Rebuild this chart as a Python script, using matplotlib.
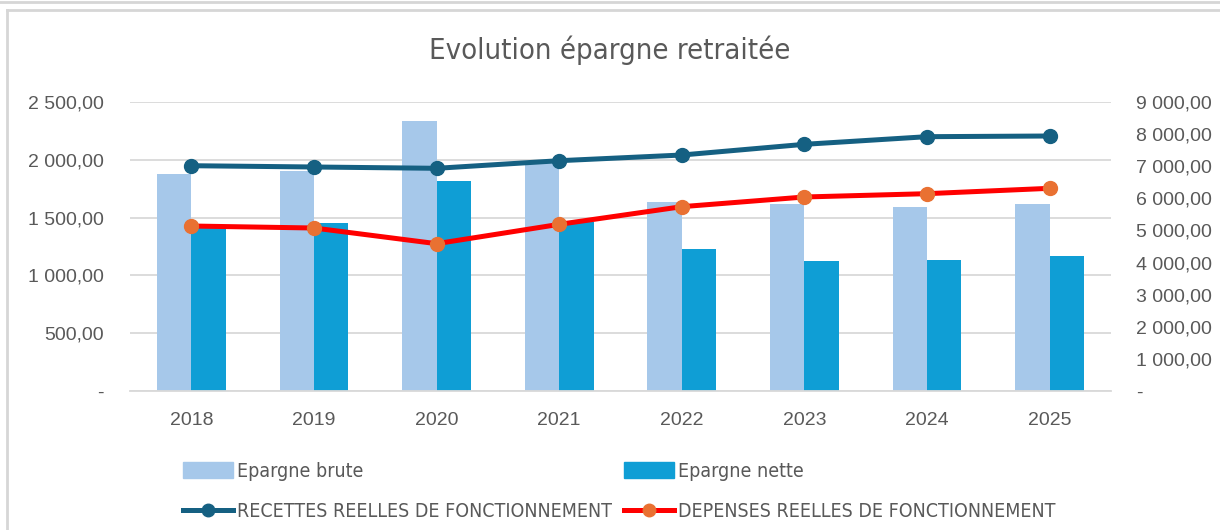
import matplotlib.pyplot as plt
from matplotlib.patches import Rectangle
from matplotlib.lines import Line2D
from matplotlib.ticker import FuncFormatter
import numpy as np

years = ["2018", "2019", "2020", "2021", "2022", "2023", "2024", "2025"]
epargne_brute = [1877, 1903, 2338, 1970, 1632, 1620, 1592, 1620]
epargne_nette = [1419, 1451, 1819, 1465, 1226, 1122, 1133, 1165]
recettes = [7016, 6976, 6935, 7172, 7349, 7682, 7920, 7941]
depenses = [5138, 5076, 4588, 5190, 5740, 6042, 6145, 6312]

plt.rcParams["font.family"] = ["Liberation Sans", "DejaVu Sans"]

c_brute = "#A6C8EA"
c_nette = "#0F9ED5"
c_rec = "#156082"
c_dep = "#FF0000"
c_dep_mk = "#E97132"
c_text = "#595959"
c_grid = "#D9D9D9"


def fr_fmt(v, pos):
    if v == 0:
        return "-"
    s = f"{v:,.2f}"
    return s.replace(",", " ").replace(".", ",")


fig = plt.figure(figsize=(12.2, 5.3), dpi=100)
ax = fig.add_axes([130 / 1220, 1 - 391 / 530, (1111 - 130) / 1220, (391 - 102) / 530])
ax2 = ax.twinx()

x = np.arange(len(years))
w = 0.28
ax.bar(x - w / 2, epargne_brute, w, color=c_brute, zorder=2)
ax.bar(x + w / 2, epargne_nette, w, color=c_nette, zorder=2)

ax2.plot(x, recettes, color=c_rec, lw=3.6, marker="o", ms=10, mfc=c_rec, mec=c_rec, zorder=3)
ax2.plot(x, depenses, color=c_dep, lw=3.6, marker="o", ms=10, mfc=c_dep_mk, mec=c_dep_mk, zorder=3)

ax.set_xlim(-0.5, len(years) - 0.5)
ax.set_ylim(0, 2500)
ax2.set_ylim(0, 9000)
ax.set_yticks(np.arange(0, 2501, 500))
ax2.set_yticks(np.arange(0, 9001, 1000))
ax.yaxis.set_major_formatter(FuncFormatter(fr_fmt))
ax2.yaxis.set_major_formatter(FuncFormatter(fr_fmt))
ax.set_xticks(x)
ax.set_xticklabels(years)

ax.grid(axis="y", color=c_grid, lw=1.3, zorder=0)
ax.set_axisbelow(True)
for a in (ax, ax2):
    for s in a.spines.values():
        s.set_visible(False)
ax.spines["bottom"].set_visible(True)
ax.spines["bottom"].set_color(c_grid)
ax.spines["bottom"].set_linewidth(1.3)

ax.tick_params(axis="y", length=0, pad=19, labelsize=14, labelcolor=c_text)
ax2.tick_params(axis="y", length=0, pad=18, labelsize=14, labelcolor=c_text)
ax.tick_params(axis="x", length=0, pad=15, labelsize=14, labelcolor=c_text)

fig.text(0.5, 1 - 50 / 530, "Evolution épargne retraitée", ha="center", va="center",
         fontsize=21, color=c_text, family="DejaVu Sans", fontstretch="condensed")

handles = [
    Rectangle((0, 0), 1, 1, color=c_brute),
    Line2D([], [], color=c_rec, lw=3.6, marker="o", ms=9, mfc=c_rec, mec=c_rec),
    Rectangle((0, 0), 1, 1, color=c_nette),
    Line2D([], [], color=c_dep, lw=3.6, marker="o", ms=9, mfc=c_dep_mk, mec=c_dep_mk),
]
labels = ["Epargne brute", "RECETTES REELLES DE FONCTIONNEMENT",
          "Epargne nette", "DEPENSES REELLES DE FONCTIONNEMENT"]
fig.legend(handles, labels, ncol=2, loc="upper left", bbox_to_anchor=(173 / 1220, 1 - 452 / 530),
           frameon=False, prop={"family": "DejaVu Sans", "stretch": "condensed", "size": 14},
           labelcolor=c_text, handlelength=2.6, handleheight=0.9, handletextpad=0.2,
           columnspacing=0.6, labelspacing=1.1, borderpad=0)

# chart frame (left and top edges only)
frame = dict(transform=fig.transFigure, color="#D6D6D6", lw=2)
fig.add_artist(Line2D([7 / 1220, 7 / 1220], [0, 1 - 10 / 530], **frame))
fig.add_artist(Line2D([7 / 1220, 1], [1 - 10 / 530] * 2, **frame))
fig.add_artist(Line2D([0, 1], [1 - 2 / 530] * 2, **frame))

fig.savefig("out.png", dpi=100)
